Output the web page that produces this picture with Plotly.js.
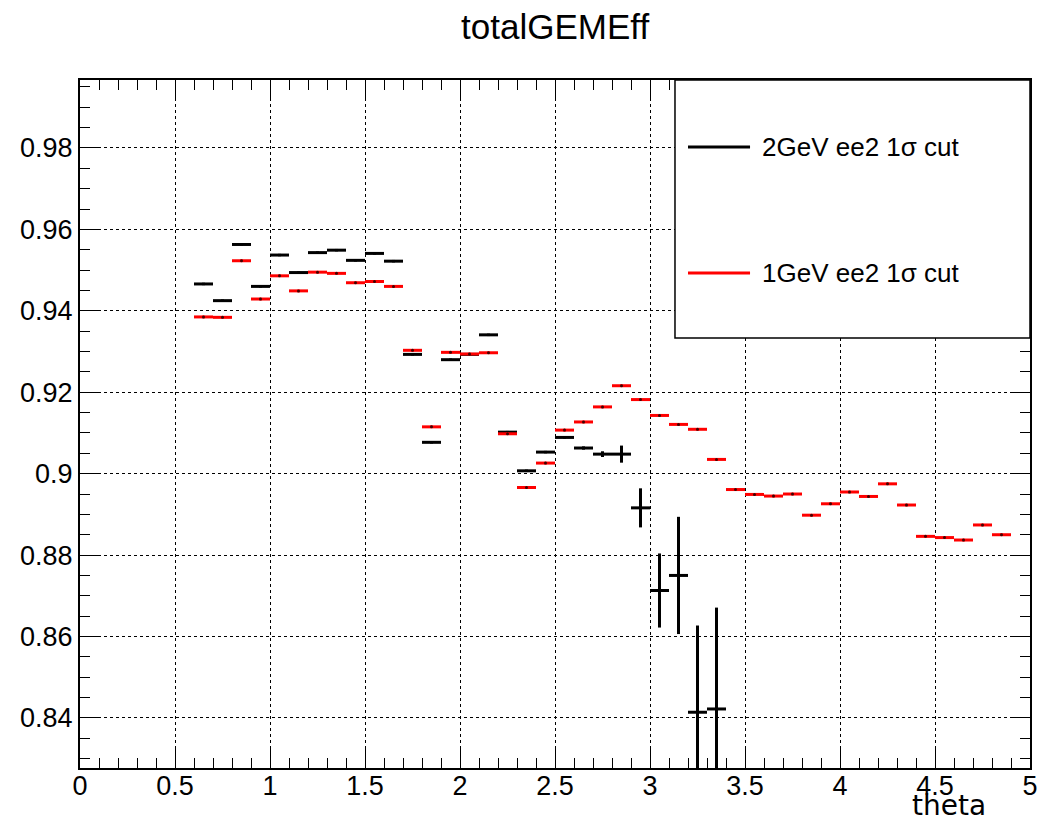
<!DOCTYPE html>
<html>
<head>
<meta charset="utf-8">
<script src="https://cdn.plot.ly/plotly-3.0.1.min.js"></script>
<style>html,body{margin:0;padding:0;background:#fff;}#chart{width:1048px;height:823px;}</style>
</head>
<body>
<div id="chart"></div>
<script>
const binHalfWidth = 0.05;
const theta2GeV = [0.65,0.75,0.85,0.95,1.05,1.15,1.25,1.35,1.45,1.55,1.65,1.75,1.85,1.95,2.05,2.15,2.25,2.35,2.45,2.55,2.65,2.75,2.85,2.95,3.05,3.15,3.25,3.35];
const eff2GeV = [0.9466,0.9425,0.9563,0.9460,0.9537,0.9494,0.9543,0.9549,0.9524,0.9541,0.9522,0.9293,0.9077,0.9280,0.9293,0.9341,0.9102,0.9007,0.9053,0.9089,0.9063,0.9048,0.9048,0.8916,0.8713,0.8750,0.8414,0.8422];
const err2GeV = [0.0003,0.0003,0.0003,0.0003,0.0003,0.0003,0.0003,0.0003,0.0003,0.0003,0.0003,0.0003,0.0003,0.0003,0.0003,0.0003,0.0003,0.0003,0.0003,0.0003,0.0004,0.0007,0.0021,0.0048,0.0091,0.0144,0.0213,0.0249];

const theta1GeV = [0.65,0.75,0.85,0.95,1.05,1.15,1.25,1.35,1.45,1.55,1.65,1.75,1.85,1.95,2.05,2.15,2.25,2.35,2.45,2.55,2.65,2.75,2.85,2.95,3.05,3.15,3.25,3.35,3.45,3.55,3.65,3.75,3.85,3.95,4.05,4.15,4.25,4.35,4.45,4.55,4.65,4.75,4.85];
const eff1GeV = [0.9385,0.9384,0.9523,0.9429,0.9486,0.9449,0.9495,0.9492,0.9469,0.9472,0.9460,0.9303,0.9115,0.9298,0.9294,0.9297,0.9098,0.8966,0.9026,0.9107,0.9127,0.9164,0.9216,0.9182,0.9143,0.9121,0.9109,0.9035,0.8961,0.8949,0.8945,0.8950,0.8898,0.8926,0.8955,0.8944,0.8975,0.8923,0.8846,0.8843,0.8837,0.8874,0.8850];
const err1GeV = eff1GeV.map(() => 0.0003);

const legendLabels = ["2GeV ee2 1\u03c3 cut", "1GeV ee2 1\u03c3 cut"];
const seriesColors = ["#000000", "#ff0000"];

const font = "Liberation Sans, Arial, Helvetica, sans-serif";

const traces = [
  {
    x: theta2GeV, y: eff2GeV, type: 'scatter', mode: 'markers',
    marker: {size: 1, color: seriesColors[0]},
    error_x: {type: 'constant', value: binHalfWidth, width: 0, thickness: 3, color: seriesColors[0]},
    error_y: {type: 'data', array: err2GeV, width: 0, thickness: 3, color: seriesColors[0]},
    showlegend: false, hoverinfo: 'x+y'
  },
  {
    x: theta1GeV, y: eff1GeV, type: 'scatter', mode: 'markers',
    marker: {size: 3, color: '#400000'},
    error_x: {type: 'constant', value: binHalfWidth, width: 0, thickness: 3, color: seriesColors[1]},
    error_y: {type: 'data', array: err1GeV, width: 0, thickness: 3, color: seriesColors[1]},
    showlegend: false, hoverinfo: 'x+y'
  }
];

const axisCommon = {
  showline: true, linecolor: '#000', linewidth: 2, mirror: 'ticks',
  ticks: 'inside', tickcolor: '#000', tickwidth: 1,
  showgrid: true, gridcolor: '#000', griddash: 'dot', gridwidth: 1,
  zeroline: false,
  tickfont: {family: font, size: 27, color: '#000'}
};

const layout = {
  width: 1048, height: 823,
  margin: {l: 80, r: 18, t: 80, b: 55},
  paper_bgcolor: '#fff', plot_bgcolor: '#fff',
  title: {text: 'totalGEMEff', font: {family: font, size: 35, color: '#000'},
          x: 0.5297, xanchor: 'center', y: 0.968, yanchor: 'middle'},
  xaxis: Object.assign({}, axisCommon, {
    range: [0, 5], tick0: 0, dtick: 0.5, ticklen: 20, ticklabelstandoff: -7,
    minor: {dtick: 0.1, ticks: 'inside', ticklen: 10, tickcolor: '#000', showgrid: false}
  }),
  yaxis: Object.assign({}, axisCommon, {
    range: [0.8277, 0.9967], tick0: 0.84, dtick: 0.02, ticklen: 20,
    minor: {dtick: 0.005, ticks: 'inside', ticklen: 10, tickcolor: '#000', showgrid: false}
  }),
  shapes: [
    {type: 'rect', xref: 'paper', yref: 'paper', x0: 0.6263, x1: 1.0, y0: 0.625, y1: 1.0,
     fillcolor: '#fff', line: {color: '#000', width: 1.5}, layer: 'above'},
    {type: 'line', xref: 'paper', yref: 'paper', x0: 0.640, x1: 0.7053, y0: 0.9026, y1: 0.9026,
     line: {color: seriesColors[0], width: 3}, layer: 'above'},
    {type: 'line', xref: 'paper', yref: 'paper', x0: 0.640, x1: 0.7053, y0: 0.7195, y1: 0.7195,
     line: {color: seriesColors[1], width: 3}, layer: 'above'}
  ],
  annotations: [
    {xref: 'paper', yref: 'paper', x: 0.7158, y: 0.9026, xanchor: 'left', yanchor: 'middle',
     text: legendLabels[0], showarrow: false, font: {family: font, size: 26, color: '#000'}},
    {xref: 'paper', yref: 'paper', x: 0.7158, y: 0.7195, xanchor: 'left', yanchor: 'middle',
     text: legendLabels[1], showarrow: false, font: {family: font, size: 26, color: '#000'}},
    {xref: 'paper', yref: 'paper', x: 0.9147, y: -0.0538, xanchor: 'center', yanchor: 'middle',
     text: 'theta', showarrow: false, font: {family: 'DejaVu Sans, sans-serif', size: 28, color: '#000'}}
  ]
};

Plotly.newPlot('chart', traces, layout, {displayModeBar: false, staticPlot: true});
</script>
</body>
</html>
